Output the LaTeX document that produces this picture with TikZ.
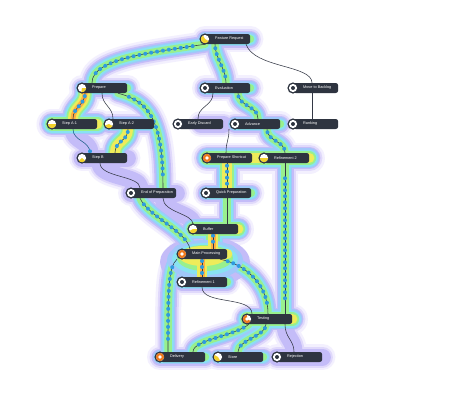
\documentclass[tikz,border=0pt]{standalone}
\usepackage{fontspec}
\setmainfont{Liberation Sans}
\usetikzlibrary{decorations.markings}
\pgfdeclarelayer{glow}
\pgfdeclarelayer{edges}
\pgfsetlayers{glow,edges,main}
\definecolor{nodebg}{HTML}{2E3440}
\definecolor{edgec}{HTML}{333845}
\definecolor{tok}{HTML}{2E9BE0}
\definecolor{icy}{HTML}{F2D12A}
\definecolor{ico}{HTML}{EE7A1E}
\definecolor{g1}{HTML}{F3F0FE}
\definecolor{g2}{HTML}{E0D9FB}
\definecolor{g3}{HTML}{C4BCF8}
\definecolor{g4}{HTML}{A0C8FA}
\definecolor{g5}{HTML}{88E2F2}
\definecolor{g6}{HTML}{98F08E}
\definecolor{g7}{HTML}{EEEC5A}
\definecolor{g8}{HTML}{FFAF42}
\tikzset{
  box/.style={fill=nodebg, rounded corners=2.5pt, anchor=west, minimum height=10pt,
    inner xsep=0pt, inner ysep=0pt, text=white, font=\fontsize{3.8}{4.5}\selectfont},
  edge/.style={draw=edgec, line width=0.55pt},
  tokens/.style={postaction={decorate}, decoration={markings,
    mark=between positions 0.1 and 0.92 step 6pt with {\fill[tok] circle (2pt);}}},
  gl/.style={line cap=round, line join=round},
}
\newcommand\iconbase[1]{\fill[nodebg] (#1.west) circle (5.6pt); \fill[white] (#1.west) circle (4.1pt);}
\newcommand\iconN[1]{\iconbase{#1}\fill[nodebg] (#1.west) circle (2pt);}
\newcommand\iconY[3]{\iconbase{#1}\fill[icy] (#1.west) -- ++(#2:4.1pt) arc[start angle=#2,end angle=#3,radius=4.1pt] -- cycle;}
\newcommand\iconO[3]{\iconbase{#1}\fill[ico] (#1.west) -- ++(#2:4.1pt) arc[start angle=#2,end angle=#3,radius=4.1pt] -- cycle; \fill[white] (#1.west) circle (1.9pt);}
\newcommand\pnode[3]{\node[box] (#1) at (#2) {\makebox[45pt][l]{\hspace*{10pt}#3}};}
% edge paths
\def\pFRPrep{(fr.south west) .. controls +(-50,8) and +(0,-25) .. (92,0 |- prep.north)}
\def\pFREval{(215,0 |- fr.south) .. controls +(0,14) and +(0,-14) .. (226,0 |- ev.north)}
\def\pFRMove{(246,0 |- fr.south) .. controls +(8,24) and +(0,-18) .. (312,0 |- mb.north)}
\def\pPrepAa{(85,0 |- prep.south) .. controls +(0,12) and +(0,-12) .. (73,0 |- sa1.north)}
\def\pPrepAb{(102,0 |- prep.south) .. controls +(0,12) and +(0,-12) .. (113,0 |- sa2.north)}
\def\pPrepEnd{(118,0 |- prep.south) .. controls +(30,8) and +(0,-70) .. (163,0 |- eop.north)}
\def\pAaB{(73,0 |- sa1.south) .. controls +(0,12) and +(0,-12) .. (90,0 |- sb.north)}
\def\pAbB{(128,0 |- sa2.south) .. controls +(0,12) and +(0,-12) .. (115,0 |- sb.north)}
\def\pBEnd{(100,0 |- sb.south) .. controls +(0,14) and +(0,-12) .. (140,0 |- eop.north)}
\def\pEvED{(213,0 |- ev.south) .. controls +(0,13) and +(0,-13) .. (198,0 |- ed.north)}
\def\pEvAdv{(238,0 |- ev.south) .. controls +(0,13) and +(0,-13) .. (258,0 |- adv.north)}
\def\pMBRank{(312,0 |- mb.south) -- (312,0 |- rk.north)}
\def\pAdvPS{(229,0 |- adv.south) .. controls +(0,12) and +(0,-12) .. (226,0 |- ps.north)}
\def\pAdvR{(267,0 |- adv.south) .. controls +(0,12) and +(0,-12) .. (285,0 |- r2.north)}
\def\pPSQP{(227,0 |- ps.south) -- (227,0 |- qp.north)}
\def\pRT{(285,0 |- r2.south) -- (285,0 |- te.north)}
\def\pQPBuf{(227,0 |- qp.south) -- (227,0 |- buf.north)}
\def\pEndBuf{(163,0 |- eop.south) .. controls +(0,14) and +(0,-10) .. (193,0 |- buf.north)}
\def\pEndMain{(140,0 |- eop.south) .. controls +(8,18) and +(-4,-18) .. (190,0 |- mp.north)}
\def\pBufMain{(213,0 |- buf.south) -- (213,0 |- mp.north)}
\def\pMainR{(202,0 |- mp.south) -- (202,0 |- r1.north)}
\def\pMainT{(220,0 |- mp.south) .. controls +(25,5) and +(0,-30) .. (268,0 |- te.north)}
\def\pMainDel{(177,0 |- mp.south) .. controls +(-9,8) and +(0,-60) .. (168,0 |- del.north)}
\def\pRoneT{(202,0 |- r1.south) .. controls +(0,18) and +(0,-18) .. (252,0 |- te.north)}
\def\pTDel{(249,0 |- te.south) .. controls +(-15,12) and +(0,-12) .. (193,0 |- del.north)}
\def\pTStore{(266,0 |- te.south) .. controls +(0,12) and +(0,-12) .. (238,0 |- st.north)}
\def\pTRej{(285,0 |- te.south) .. controls +(0,14) and +(0,-12) .. (294,0 |- rej.north)}
% glow groups
\newcommand\glowC{%
  \draw[gl,glc] \pAaB; \draw[gl,glc] \pBEnd; \draw[gl,glc] \pEndBuf; \draw[gl,glc] \pTRej;
  \draw[gl,glc] (sb.west) -- (sb.east); \draw[gl,glc] (eop.west) -- (eop.east);
  \draw[gl,glc] (rej.west) -- (rej.east); \draw[gl,glc] (ed.center) -- (ed.east);}
\newcommand\glowA{%
  \draw[gl,glc] \pFRPrep; \draw[gl,glc] \pFREval; \draw[gl,glc] \pPrepEnd; \draw[gl,glc] \pEvAdv;
  \draw[gl,glc] \pAdvR; \draw[gl,glc] \pQPBuf; \draw[gl,glc] \pEndMain; \draw[gl,glc] \pMainT;
  \draw[gl,glc] \pMainDel; \draw[gl,glc] \pTDel; \draw[gl,glc] \pTStore; \draw[gl,glc] \pRT;
  \draw[gl,glc] (fr.west) -- (fr.east); \draw[gl,glc] (prep.west) -- (prep.east);
  \draw[gl,glc] (ev.west) -- (ev.east); \draw[gl,glc] (adv.west) -- (adv.east);
  \draw[gl,glc] (sa2.west) -- (sa2.east); \draw[gl,glc] (qp.west) -- (qp.east);
  \draw[gl,glc] (r1.west) -- (r1.east); \draw[gl,glc] (del.west) -- (del.east);
  \draw[gl,glc] (st.west) -- (st.east);}
\newcommand\glowH{%
  \draw[gl,glh] \pPrepAa; \draw[gl,glh] \pAbB; \draw[gl,glh] \pPSQP; \draw[gl,glh] \pBufMain;
  \draw[gl,glh] \pMainR;
  \draw[gl,glh] (sa1.west) -- (sa1.east); \draw[gl,glh] (ps.west) -- (r2.east);
  \draw[gl,glh] (buf.west) -- (buf.east); \draw[gl,glh] (mp.west) -- (mp.east);
  \draw[gl,glh] (te.west) -- (te.east);}
\begin{document}
\begin{tikzpicture}[x=1pt,y=-1pt]
\useasboundingbox (0,0) rectangle (460,400);
% nodes
\pnode{fr}{205,39}{Feature Request}
\pnode{prep}{82,88}{Prepare}
\pnode{ev}{205,88}{Evaluation}
\pnode{mb}{293,88}{Move to Backlog}
\pnode{sa1}{52,124}{Step A-1}
\pnode{sa2}{109,124}{Step A-2}
\pnode{ed}{178,124}{Early Discard}
\pnode{adv}{235,124}{Advance}
\pnode{rk}{293,124}{Ranking}
\pnode{sb}{82,158}{Step B}
\pnode{ps}{207,158}{Prepare Shortcut}
\pnode{r2}{264,158}{Refinement 2}
\pnode{eop}{131,193}{End of Preparation}
\pnode{qp}{206,193}{Quick Preparation}
\pnode{buf}{193,229}{Buffer}
\pnode{mp}{182,254}{Main Processing}
\pnode{r1}{182,282}{Refinement 1}
\pnode{te}{247,319}{Testing}
\pnode{del}{160,357}{Delivery}
\pnode{st}{218,357}{Store}
\pnode{rej}{277,357}{Rejection}
% icons
\iconY{fr}{120}{330}
\iconY{prep}{260}{360}
\iconN{ev}
\iconN{mb}
\iconY{sa1}{180}{360}
\iconY{sa2}{200}{330}
\iconN{ed}
\iconN{adv}
\iconN{rk}
\iconY{sb}{220}{320}
\iconO{ps}{0}{360}
\iconY{r2}{180}{360}
\iconN{eop}
\iconN{qp}
\iconY{buf}{210}{360}
\iconO{mp}{0}{360}
\iconN{r1}
\iconO{te}{90}{330}
\iconO{del}{0}{360}
\iconY{st}{150}{300}
\iconN{rej}
% glow
\begin{pgfonlayer}{glow}
\fill[white] (0,0) rectangle (460,400);
\foreach \w/\c in {26/g1,21/g2,17/g3}{%
  \pgfmathsetmacro\wh{\w+5}
  \tikzset{glc/.style={line width=\w pt, draw=\c}, glh/.style={line width=\wh pt, draw=\c}}
  \glowC\glowA\glowH}
\fill[g3] (205,262) ellipse[x radius=45pt, y radius=26pt];
\foreach \w/\c in {14/g4,11/g5,7.5/g6}{%
  \pgfmathsetmacro\wh{\w+6}
  \tikzset{glc/.style={line width=\w pt, draw=\c}, glh/.style={line width=\wh pt, draw=\c}}
  \glowA\glowH}
\fill[g4] (205,260) ellipse[x radius=38pt, y radius=20pt];
\fill[g5] (205,259) ellipse[x radius=33pt, y radius=16pt];
\fill[g6] (205,258) ellipse[x radius=28pt, y radius=13pt];
\tikzset{glc/.style={line width=5pt, draw=g7}, glh/.style={line width=10pt, draw=g7}}
\glowH
\fill[g7] (203,256) ellipse[x radius=24pt, y radius=10pt];
\draw[gl,line width=5pt,draw=g8] \pPrepAa;
\draw[gl,line width=5pt,draw=g8] \pBufMain;
\draw[gl,line width=5pt,draw=g8] \pMainR;
\draw[gl,line width=8pt,draw=g8] (mp.west) -- ([xshift=-4pt]mp.center);
\draw[gl,line width=6pt,draw=g8] (ps.west) -- ([xshift=-12pt]ps.center);
\draw[gl,line width=6pt,draw=g8] (te.west) -- ([xshift=-14pt]te.center);
\end{pgfonlayer}
% edges
\begin{pgfonlayer}{edges}
\draw[edge,tokens] \pFRPrep;
\draw[edge,tokens] \pFREval;
\draw[edge] \pFRMove;
\draw[edge,tokens] \pPrepAa;
\draw[edge] \pPrepAb;
\draw[edge,tokens] \pPrepEnd;
\draw[edge,draw=tok!60!black] \pAaB;
\fill[tok] (90,0 |- sb.north) ++(0,-1.5) circle (2pt);
\draw[edge,tokens] \pAbB;
\draw[edge] \pBEnd;
\draw[edge] \pEvED;
\draw[edge,tokens] \pEvAdv;
\draw[edge] \pMBRank;
\draw[edge] \pAdvPS;
\draw[edge,tokens] \pAdvR;
\draw[edge,tokens] \pPSQP;
\draw[edge,tokens] \pRT;
\draw[edge] \pQPBuf;
\draw[edge] \pEndBuf;
\draw[edge,tokens] \pEndMain;
\draw[edge,tokens] \pBufMain;
\draw[edge,tokens] \pMainR;
\draw[edge,tokens] \pMainT;
\draw[edge,tokens] \pMainDel;
\draw[edge] \pRoneT;
\draw[edge,tokens] \pTDel;
\draw[edge,tokens] \pTStore;
\draw[edge] \pTRej;
\end{pgfonlayer}
\end{tikzpicture}
\end{document}
